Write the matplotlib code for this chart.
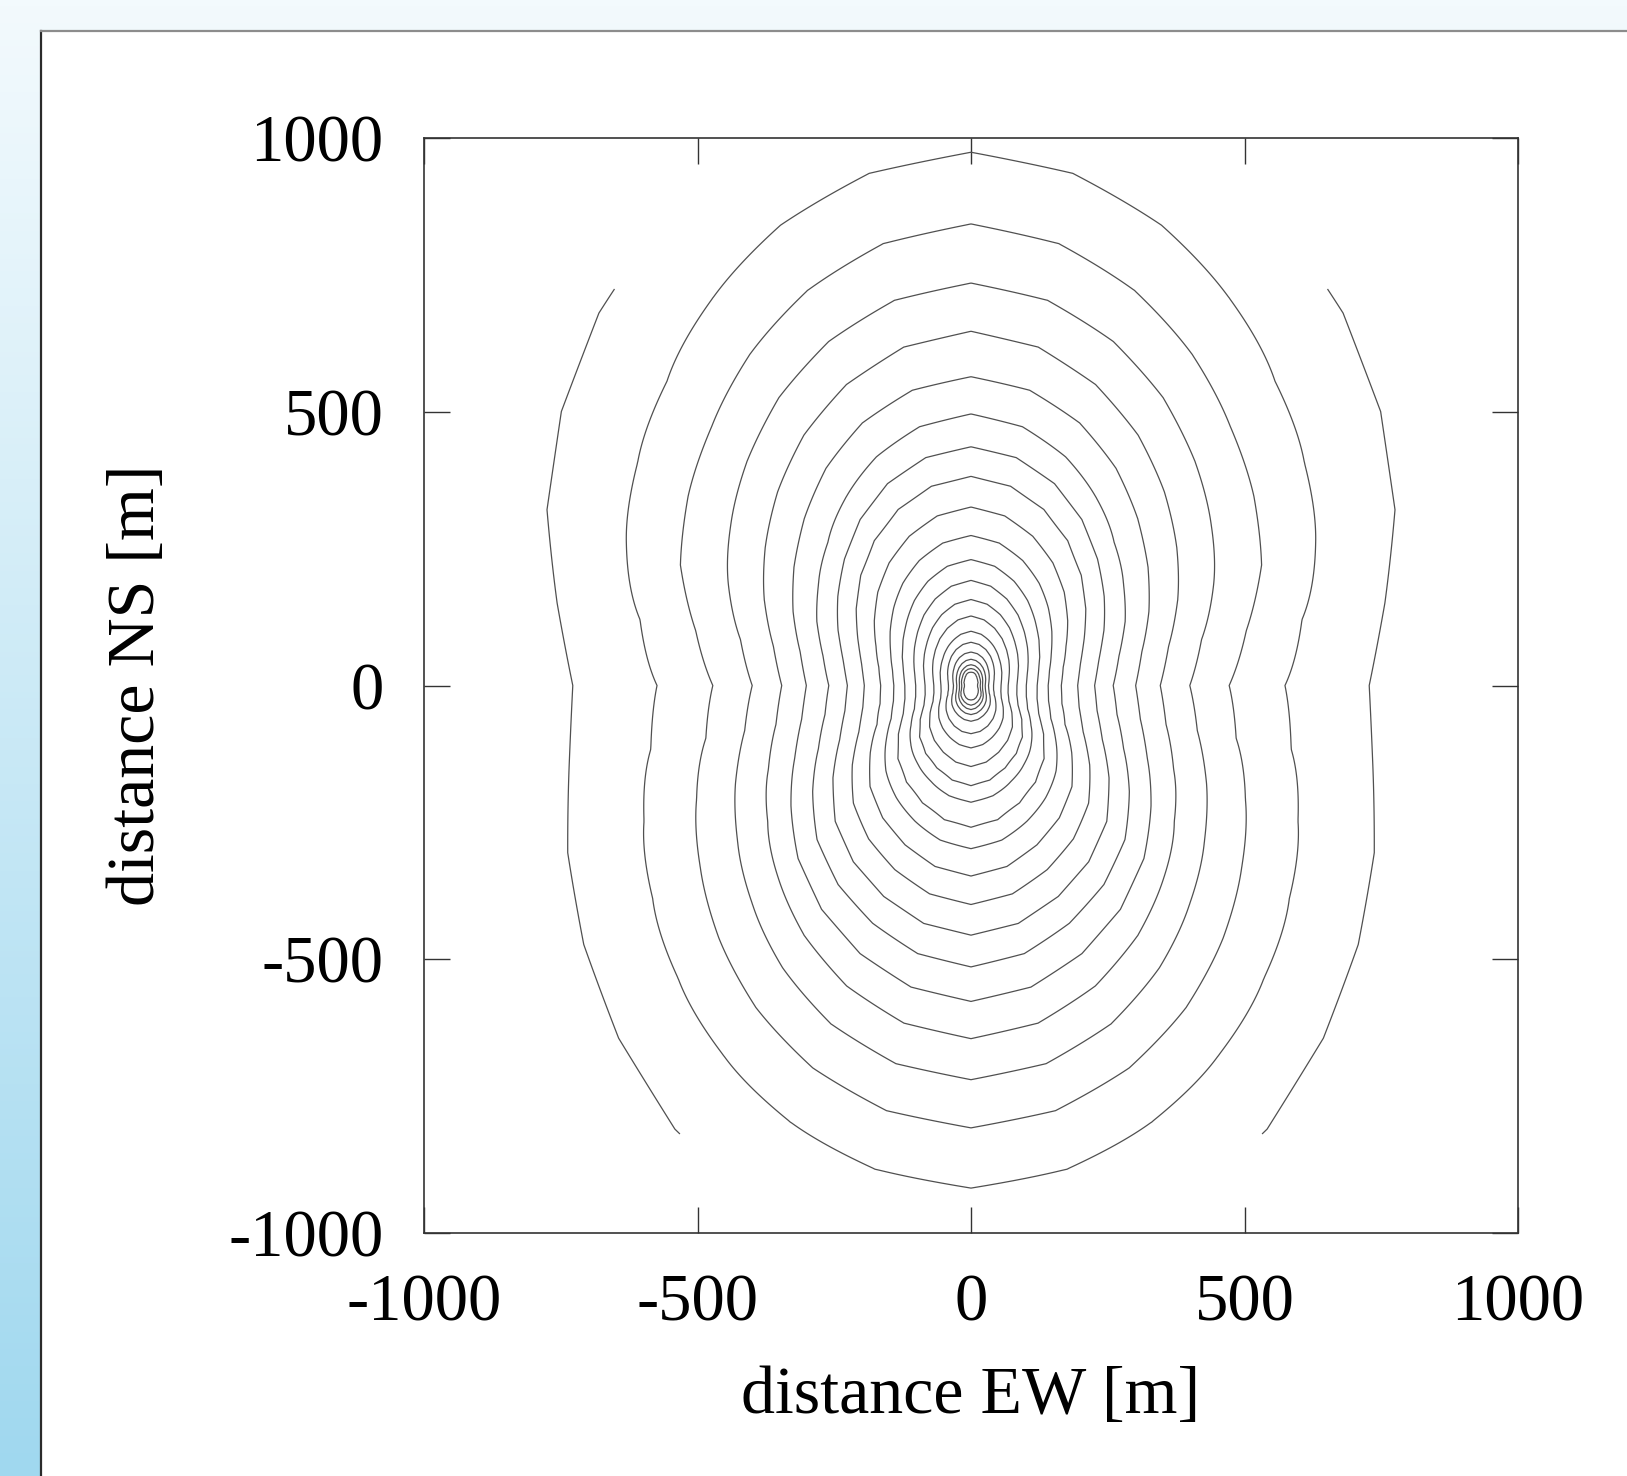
import numpy as np
import matplotlib.pyplot as plt
from matplotlib.patches import Rectangle

plt.rcParams['font.family'] = ['Liberation Serif', 'DejaVu Serif']
plt.rcParams['axes.unicode_minus'] = False

# contour radii [m], one row per contour (outermost first)
# columns: bearing from north, clockwise (field is mirror symmetric E/W)
bearings = [0, 22.5, 45, 67.5, 90, 112.5, 135, 157.5, 180]
radii = [
    [1130, 1070, 962, 839, 728, 798, 911, 1030, 1080],
    [974, 910, 786, 682, 574, 647, 757, 863, 918],
    [843, 781, 670, 575, 472, 543, 652, 756, 808],
    [735, 680, 579, 480, 400, 466, 565, 669, 720],
    [647, 595, 500, 409, 346, 401, 498, 594, 645],
    [564, 519, 431, 352, 301, 349, 447, 530, 577],
    [496, 452, 370, 305, 260, 302, 398, 470, 514],
    [436, 399, 327, 263, 226, 260, 351, 417, 456],
    [382, 348, 285, 224, 195, 222, 304, 364, 400],
    [326, 295, 241, 188, 165, 186, 261, 315, 348],
    [274, 247, 200, 159, 141, 158, 220, 268, 298],
    [230, 206, 166, 136, 121, 134, 189, 232, 259],
    [192, 171, 138, 113, 101, 112, 155, 190, 213],
    [157, 140, 113, 94, 84, 93, 133, 163, 183],
    [127, 113, 92, 76, 68, 75, 107, 132, 148],
    [99, 88, 72, 61, 55, 60, 83, 102, 114],
    [79, 71, 57, 46, 41, 46, 64, 80, 88],
    [61, 55, 44, 36, 32, 36, 49, 59, 65],
    [48, 43, 35, 29, 26, 29, 39, 48, 53],
    [38, 34, 28, 23, 21, 23, 31, 39, 44],
    [31, 28, 22, 19, 17, 19, 26, 32, 36],
    [25, 22, 17, 14, 12, 14, 19, 24, 27],
]
r_max = 978.0          # outer radius of the polar grid
ticks = [-1000, -500, 0, 500, 1000]

#%% build the field on a polar grid (11.25 deg spokes)
tab = np.array(radii, float)
n = len(tab)
ring = np.concatenate([tab, tab[:, 7:0:-1]], axis=1)       # 16 spokes, 22.5 deg
mid = (-np.roll(ring, 1, 1) + 9 * ring + 9 * np.roll(ring, -1, 1)
       - np.roll(ring, -2, 1)) / 16.0
rad = np.empty((n, 32))
rad[:, 0::2] = ring
rad[:, 1::2] = mid
rad = np.concatenate([rad, rad[:, :1]], axis=1)

phi = np.deg2rad(np.arange(33) * 11.25)
r = np.linspace(0, r_max, 490)
vals = np.concatenate([[n], np.arange(n)[::-1], [-1]])
Z = np.empty((len(r), len(phi)))
for j in range(len(phi)):
    outer = 2 * rad[0, j] - rad[1, j]
    xp = np.concatenate([[0.0], rad[::-1, j], [outer]])
    Z[:, j] = np.interp(r, xp, vals)
R, P = np.meshgrid(r, phi, indexing='ij')
X = R * np.sin(P)
Y = R * np.cos(P)

#%% figure
W, H = 1627, 1476
fig = plt.figure(figsize=(W / 100, H / 100), dpi=100)

bg = fig.add_axes([0, 0, 1, 1], zorder=-10)
top_c = np.array([243, 250, 253]) / 255
bot_c = np.array([160, 216, 239]) / 255
g = np.linspace(0, 1, 256)[:, None, None]
bg.imshow(top_c + (bot_c - top_c) * g, aspect='auto', extent=[0, 1, 0, 1], origin='upper')
px, py = 41 / W, 1 - 31 / H
bg.add_patch(Rectangle((px, 0), 1 - px, py, facecolor='white', edgecolor='none'))
bg.plot([px, px], [0, py], color='#2b2b2b', lw=1.6)
bg.plot([px, 1], [py, py], color='#8c8c8c', lw=1.6)
bg.set_xlim(0, 1)
bg.set_ylim(0, 1)
bg.axis('off')

ax = fig.add_axes([424 / W, 1 - 1233 / H, 1094 / W, 1095 / H])
ax.contour(X, Y, Z, levels=np.arange(n), colors='#505050', linewidths=0.9)

ax.set_xlim(-1000, 1000)
ax.set_ylim(-1000, 1000)
ax.set_xticks(ticks)
ax.set_yticks(ticks)
ax.tick_params(direction='in', length=18.5, width=1.0, color='#333333',
               top=True, right=True, labelsize=48, pad=29)
for s in ax.spines.values():
    s.set_linewidth(1.2)
    s.set_color('#333333')

ax.set_xlabel('distance EW [m]', fontsize=49)
ax.set_ylabel('distance NS [m]', fontsize=49)
ax.xaxis.set_label_coords(0.5, -0.149)
ax.xaxis.label.set_va('center')
ax.yaxis.set_label_coords(-0.262, 0.5)
ax.yaxis.label.set_va('center')

fig.savefig('out.png', dpi=100)
